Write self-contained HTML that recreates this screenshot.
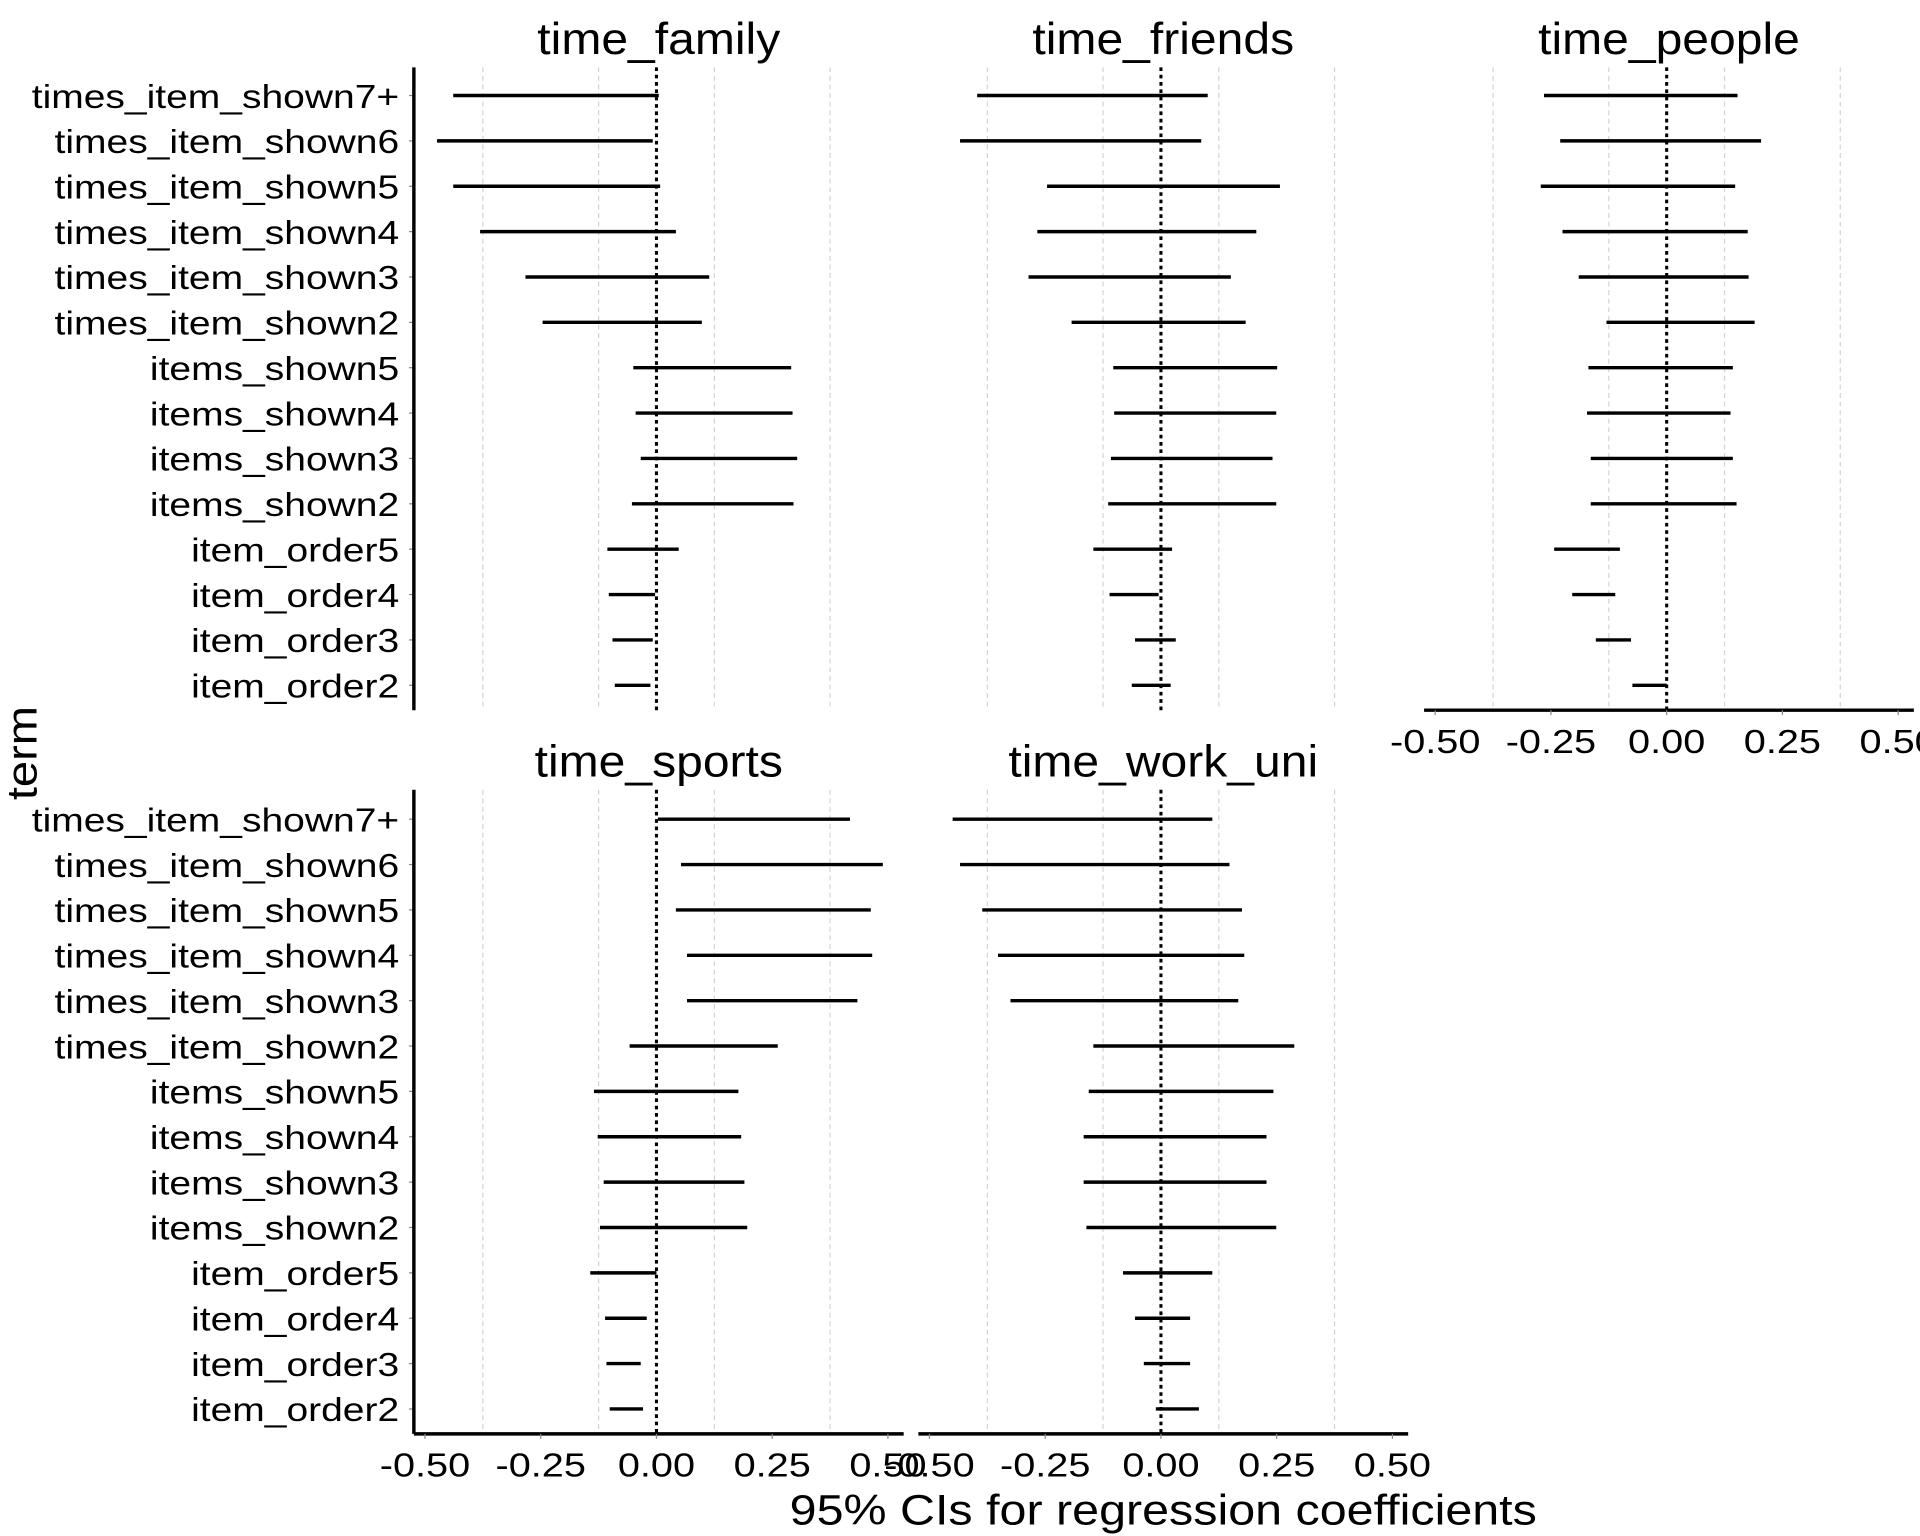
<!DOCTYPE html>
<html><head><meta charset="utf-8">
<style>
html,body{margin:0;padding:0;background:#fff;}
svg{display:block;font-family:"Liberation Sans",Arial,sans-serif;}
</style></head>
<body>
<svg id="chart" width="1920" height="1536" viewBox="0 0 1568 1254.4" xmlns="http://www.w3.org/2000/svg"></svg>
<script>
const terms = ["times_item_shown7+","times_item_shown6","times_item_shown5","times_item_shown4","times_item_shown3","times_item_shown2","items_shown5","items_shown4","items_shown3","items_shown2","item_order5","item_order4","item_order3","item_order2"];
const panelNames = ["time_family","time_friends","time_people","time_sports","time_work_uni"];
const xTicks = [-0.5,-0.25,0,0.25,0.5];
const xTickLabels = ["-0.50","-0.25","0.00","0.25","0.50"];
const gridVals = [-0.375,-0.125,0.125,0.375];
const familyLo = [-0.439,-0.474,-0.439,-0.381,-0.283,-0.246,-0.050,-0.045,-0.034,-0.053,-0.106,-0.103,-0.095,-0.090];
const familyHi = [0.005,-0.008,0.008,0.042,0.114,0.098,0.291,0.294,0.304,0.296,0.048,-0.003,-0.008,-0.013];
const friendsLo = [-0.397,-0.434,-0.246,-0.267,-0.286,-0.193,-0.103,-0.101,-0.108,-0.114,-0.146,-0.111,-0.056,-0.063];
const friendsHi = [0.101,0.087,0.257,0.206,0.151,0.183,0.251,0.249,0.241,0.249,0.024,-0.005,0.032,0.021];
const peopleLo = [-0.265,-0.230,-0.272,-0.225,-0.190,-0.130,-0.169,-0.172,-0.164,-0.164,-0.243,-0.204,-0.153,-0.074];
const peopleHi = [0.153,0.204,0.148,0.175,0.177,0.190,0.143,0.138,0.143,0.151,-0.101,-0.111,-0.077,0.000];
const sportsLo = [0.003,0.053,0.042,0.066,0.066,-0.058,-0.135,-0.127,-0.114,-0.122,-0.143,-0.111,-0.108,-0.101];
const sportsHi = [0.418,0.489,0.463,0.466,0.434,0.262,0.177,0.183,0.190,0.196,0.000,-0.021,-0.034,-0.029];
const workLo = [-0.450,-0.434,-0.386,-0.352,-0.325,-0.146,-0.156,-0.167,-0.167,-0.161,-0.082,-0.056,-0.037,-0.011];
const workHi = [0.111,0.148,0.175,0.180,0.167,0.288,0.243,0.228,0.228,0.249,0.111,0.063,0.063,0.082];

const NS="http://www.w3.org/2000/svg";
const svg=document.getElementById('chart');
function mk(tag,attrs,parent){const e=document.createElementNS(NS,tag);for(const k in attrs)e.setAttribute(k,attrs[k]);(parent||svg).appendChild(e);return e;}
function widen(t,f){const w=t.getComputedTextLength();t.setAttribute('textLength',w*f);t.setAttribute('lengthAdjust','spacingAndGlyphs');}

const cols=[338,750,1163]; const rowsTop=[55,645]; const rowsBot=[580,1171];
const PW=400, XMIN=-0.524, XMAX=0.534;
const firstY=[78,669], stepY=37.05;
const panels=[
 {name:panelNames[0],lo:familyLo,hi:familyHi,c:0,r:0,yaxis:true,xaxis:false},
 {name:panelNames[1],lo:friendsLo,hi:friendsHi,c:1,r:0,yaxis:false,xaxis:false},
 {name:panelNames[2],lo:peopleLo,hi:peopleHi,c:2,r:0,yaxis:false,xaxis:true},
 {name:panelNames[3],lo:sportsLo,hi:sportsHi,c:0,r:1,yaxis:true,xaxis:true},
 {name:panelNames[4],lo:workLo,hi:workHi,c:1,r:1,yaxis:false,xaxis:true}
];
panels.forEach(p=>{
  const L=cols[p.c], top=rowsTop[p.r], bot=rowsBot[p.r];
  const xs=v=>L+(v-XMIN)/(XMAX-XMIN)*PW;
  const ys=i=>firstY[p.r]+i*stepY;
  const g=mk('g',{});
  
  
  gridVals.forEach(v=>{
    const l=mk('line',{x1:xs(v),x2:xs(v),y1:top,y2:bot,stroke:'#d4d4d4','stroke-width':1,'stroke-dasharray':'4,3'},g);
    
    
  });
  const t=mk('text',{x:L+PW/2,y:rowsTop[p.r]-11,'font-size':36,'text-anchor':'middle',fill:'#000'},g);
  t.textContent=p.name;
  
  
  widen(t,1.09);
  const z=mk('line',{x1:xs(0),x2:xs(0),y1:top,y2:bot,stroke:'#000','stroke-width':2.5,'stroke-dasharray':'3,3'},g);
  
  
  terms.forEach((term,i)=>{
    const b=mk('line',{x1:xs(p.lo[i]),x2:xs(p.hi[i]),y1:ys(i),y2:ys(i),stroke:'#000','stroke-width':2.8},g);
    
    
    if(p.yaxis){
      const tl=mk('text',{x:L-12,y:ys(i)+10,'font-size':27,'text-anchor':'end',fill:'#000'},g);
      tl.textContent=term;
      
      
      widen(tl,1.18);
      mk('line',{x1:L-4,x2:L,y1:ys(i),y2:ys(i),stroke:'#888','stroke-width':1},g);
    }
  });
  if(p.yaxis){
    const a=mk('line',{x1:L,x2:L,y1:top,y2:bot,stroke:'#000','stroke-width':2.8},g);
    
    
  }
  if(p.xaxis){
    const a=mk('line',{x1:L,x2:L+PW,y1:bot,y2:bot,stroke:'#000','stroke-width':2.8},g);
    
    
    xTicks.forEach((v,i)=>{
      mk('line',{x1:xs(v),x2:xs(v),y1:bot,y2:bot+4,stroke:'#888','stroke-width':1},g);
      const tl=mk('text',{x:xs(v),y:bot+35,'font-size':27,'text-anchor':'middle',fill:'#000'},g);
      tl.textContent=xTickLabels[i];
      
      
      widen(tl,1.2);
    });
  }
});
const xt=mk('text',{x:950,y:1245,'font-size':35,'text-anchor':'middle',fill:'#000'});
xt.textContent='95% CIs for regression coefficients';


widen(xt,1.13);
const yt=mk('text',{x:0,y:0,'font-size':35,'text-anchor':'middle',fill:'#000',transform:'translate(30,615) rotate(-90)'});
yt.textContent='term';


widen(yt,1.1);
</script>
</body></html>
